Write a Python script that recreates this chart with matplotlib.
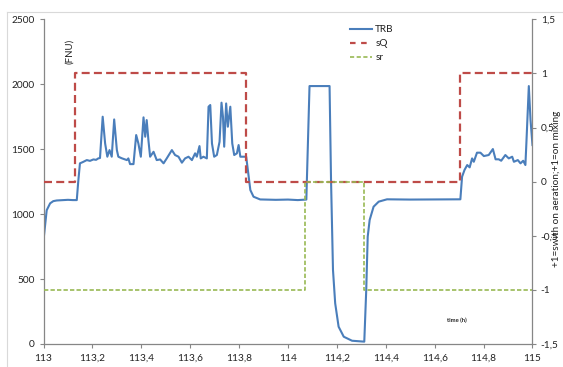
import matplotlib
matplotlib.use("Agg")
import matplotlib.pyplot as plt
from matplotlib.ticker import FuncFormatter, MultipleLocator
from matplotlib.lines import Line2D

plt.rcParams['font.family'] = ['Lato', 'DejaVu Sans']

# TRB turbidity (FNU)
trb_t = [113.000, 113.013, 113.027, 113.040, 113.054, 113.080, 113.100, 113.120, 113.136, 113.142,
         113.149, 113.160, 113.177, 113.190, 113.204, 113.215, 113.224, 113.231, 113.242, 113.252,
         113.261, 113.270, 113.279, 113.289, 113.300, 113.306, 113.320, 113.341, 113.347, 113.354,
         113.368, 113.379, 113.388, 113.398, 113.409, 113.416, 113.422, 113.429, 113.436, 113.450,
         113.463, 113.477, 113.491, 113.504, 113.525, 113.538, 113.552, 113.566, 113.579, 113.593,
         113.607, 113.620, 113.627, 113.638, 113.643, 113.654, 113.668, 113.675, 113.682, 113.689,
         113.698, 113.709, 113.720, 113.728, 113.734, 113.739, 113.747, 113.754, 113.764, 113.772,
         113.780, 113.791, 113.798, 113.805, 113.818, 113.829, 113.839, 113.846, 113.859, 113.886,
         113.950, 114.000, 114.040, 114.075, 114.088, 114.170, 114.176, 114.184, 114.193, 114.207,
         114.228, 114.262, 114.312, 114.320, 114.326, 114.334, 114.350, 114.371, 114.405, 114.500,
         114.600, 114.705, 114.712, 114.722, 114.733, 114.743, 114.753, 114.760, 114.773, 114.787,
         114.801, 114.821, 114.838, 114.849, 114.862, 114.872, 114.889, 114.903, 114.917, 114.924,
         114.940, 114.951, 114.962, 114.971, 114.975, 114.985, 114.992, 115.000]
trb_v = [800, 1030, 1083, 1100, 1105, 1108, 1110, 1108, 1108, 1250,
         1391, 1400, 1416, 1410, 1421, 1418, 1429, 1432, 1750, 1544,
         1442, 1493, 1442, 1729, 1493, 1442, 1430, 1416, 1429, 1385,
         1385, 1609, 1544, 1442, 1745, 1596, 1724, 1570, 1442, 1480,
         1416, 1421, 1391, 1429, 1493, 1455, 1442, 1396, 1429, 1442,
         1416, 1468, 1442, 1524, 1429, 1442, 1429, 1827, 1840, 1544,
         1442, 1455, 1557, 1858, 1750, 1519, 1852, 1673, 1827, 1544,
         1455, 1468, 1532, 1442, 1442, 1442, 1288, 1185, 1134, 1113,
         1110, 1112, 1108, 1112, 1986, 1986, 1262, 570, 313, 133,
         56, 25, 18, 416, 826, 955, 1057, 1096, 1114, 1112,
         1113, 1114, 1288, 1340, 1378, 1360, 1429, 1403, 1473, 1473,
         1447, 1455, 1501, 1422, 1422, 1411, 1455, 1429, 1442, 1403,
         1416, 1391, 1411, 1378, 1545, 1986, 1724, 1532]

# sQ (aeration switch) and sr (mixing switch), step series
sq_t = [113.0, 113.129, 113.829, 114.705, 115.0]
sq_v = [0, 1, 0, 1, 1]
sr_t = [113.0, 114.071, 114.309, 115.0]
sr_v = [-1, 0, -1, -1]

x_ticks = [113, 113.2, 113.4, 113.6, 113.8, 114, 114.2, 114.4, 114.6, 114.8, 115]

BLUE = '#4A7EBB'
RED = '#BE4B48'
GREEN = '#98B954'
AXC = '#868686'
TXT = '#222222'

fig = plt.figure(figsize=(5.63, 3.67), dpi=100)
ax = fig.add_axes([0.0773, 0.0627, 0.8685, 0.8847])
ax2 = ax.twinx()

ax.plot(trb_t, trb_v, color=BLUE, lw=1.5, solid_joinstyle='round')
ax2.plot(sq_t, sq_v, color=RED, lw=1.6, drawstyle='steps-post', dashes=(3.6, 1.9))
ax2.plot(sr_t, sr_v, color=GREEN, lw=1.2, drawstyle='steps-post', dashes=(2.6, 1.3))

ax.set_xlim(113, 115)
ax.set_ylim(0, 2500)
ax2.set_ylim(-1.5, 1.5)
ax.set_xticks(x_ticks)
ax.yaxis.set_major_locator(MultipleLocator(500))
ax2.yaxis.set_major_locator(MultipleLocator(0.5))

def comma(v, pos):
    s = ('%.1f' % v).rstrip('0').rstrip('.')
    if s == '-0':
        s = '0'
    return s.replace('.', ',')

ax.xaxis.set_major_formatter(FuncFormatter(comma))
ax2.yaxis.set_major_formatter(FuncFormatter(comma))

for a in (ax, ax2):
    for sp in a.spines.values():
        sp.set_color(AXC)
        sp.set_linewidth(0.9)
    a.spines['top'].set_visible(False)
    a.tick_params(axis='both', colors=AXC, labelcolor=TXT, labelsize=7.3, length=3, width=0.8, direction='out')
ax.spines['right'].set_visible(False)
ax2.spines['left'].set_visible(False)
ax2.spines['bottom'].set_visible(False)
ax.tick_params(axis='x', pad=4)
ax2.tick_params(axis='y', pad=3)

ax.text(0.054, 0.94, '(FNU)', transform=ax.transAxes, rotation=90, fontsize=7,
        color=TXT, ha='center', va='top')
fig.text(0.989, 0.485, '+1=swith on aeration;+1=on mixing', rotation=90, fontsize=7.2,
         color=TXT, ha='center', va='center')
ax.text(0.845, 0.072, 'time (h)', transform=ax.transAxes, fontsize=4.2, fontweight='bold',
        color=TXT, ha='center', va='center')

handles = [Line2D([], [], color=BLUE, lw=1.5),
           Line2D([], [], color=RED, lw=1.6, dashes=(2.5, 2.5)),
           Line2D([], [], color=GREEN, lw=1.2, dashes=(2.5, 1.5))]
leg = ax2.legend(handles, ['TRB', 'sQ', 'sr'], loc='upper left', bbox_to_anchor=(0.615, 1.0),
                 frameon=False, fontsize=7.2, handlelength=2.2, handletextpad=0.3,
                 labelspacing=0.5, borderaxespad=0.2)
for t in leg.get_texts():
    t.set_color(TXT)

# chart area border (left and top edges visible)
fig.add_artist(Line2D([7/563, 7/563], [0, 1 - 12/367], color='#D9D9D9', lw=0.8,
                      transform=fig.transFigure))
fig.add_artist(Line2D([7/563, 1], [1 - 12/367, 1 - 12/367], color='#D9D9D9', lw=0.8,
                      transform=fig.transFigure))

fig.savefig('out.png', dpi=100)
